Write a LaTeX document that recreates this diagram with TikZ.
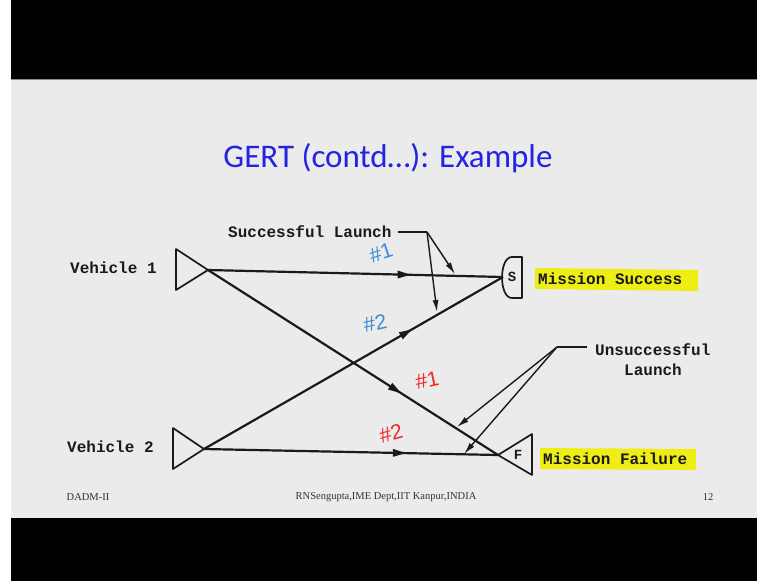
\documentclass[tikz,border=0pt]{standalone}
\usepackage{fontspec}
\setmainfont{Liberation Serif}
\newfontfamily\titlefont{Carlito}
\newfontfamily\typefont{Liberation Mono}
\newfontfamily\handfont{Liberation Sans}
\usetikzlibrary{arrows.meta,decorations.markings}
\definecolor{slidebg}{HTML}{EBEBEB}
\definecolor{titleblue}{RGB}{35,35,225}
\definecolor{penblue}{RGB}{60,140,215}
\definecolor{penred}{RGB}{240,40,40}
\definecolor{hilite}{RGB}{238,238,20}
\definecolor{ink}{HTML}{1A1A1A}
\tikzset{
  mono/.style={font=\typefont\bfseries\fontsize{16}{18}\selectfont, text=ink, inner sep=0pt},
  hand/.style={font=\handfont\fontsize{21}{22}\selectfont, inner sep=0pt},
  foot/.style={font=\fontsize{10.5}{12}\selectfont, text=black!80, inner sep=0pt},
  shapeline/.style={draw=ink, line width=1.7pt, line join=round},
  mainline/.style={draw=ink, line width=2.2pt},
  midarrow/.style={postaction={decorate}, decoration={markings,
      mark=at position #1 with {\fill[ink] (2pt,0pt) -- (-11pt,4pt) -- (-11pt,-4pt) -- cycle;}}},
  annot/.style={draw=ink, line width=1.4pt},
  annotarrow/.style={annot, -{Latex[length=12pt,width=6pt]}},
}
\begin{document}
\begin{tikzpicture}[x=1pt,y=-1pt]
% background
\fill[white] (0,0) rectangle (767,581);
\fill[black] (11,0) rectangle (757,79);
\fill[slidebg] (11,79) rectangle (757,518);
\fill[black] (11,518) rectangle (757,581);
\draw[black!45, line width=1pt] (11,79.5) -- (757,79.5);
\useasboundingbox (0,0) rectangle (767,581);

% title
\node[font=\titlefont\fontsize{33}{36}\selectfont, text=titleblue, anchor=base, inner sep=0pt]
  (title) at (388,167) {GERT (contd\ldots): Example};

% vehicles (triangles)
\coordinate (v1) at (208,270);
\draw[shapeline] (v1) -- (176,249) -- (176,290) -- cycle;
\coordinate (v2) at (204,449);
\draw[shapeline] (v2) -- (173,428) -- (173,469) -- cycle;
\node[mono, anchor=west] (v1lab) at (70,268) {Vehicle 1};
\node[mono, anchor=west] (v2lab) at (67,447) {Vehicle 2};

% success node (D shape)
\node[font=\typefont\bfseries\fontsize{14}{14}\selectfont, text=ink, inner sep=0pt] (S) at (512,277) {S};
\coordinate (sin) at (503,277);
\draw[shapeline] (522,257) -- (512,257) .. controls (498.7,257) and (498.7,298) .. (512,298) -- (522,298) -- cycle;

% failure node (triangle)
\coordinate (fin) at (498,455);
\draw[shapeline] (fin) -- (532,434) -- (532,475) -- cycle;
\node[font=\typefont\bfseries\fontsize{14}{14}\selectfont, text=ink, inner sep=0pt] (F) at (518,455) {F};

% highlights and labels
\fill[hilite] (535,268) -- (698,270) -- (698,291) -- (535,289) -- cycle;
\node[mono, anchor=west] (ms) at (538,279) {Mission Success};
\fill[hilite] (540,448) -- (696,449) -- (696,470) -- (540,469) -- cycle;
\node[mono, anchor=west] (mf) at (543,459) {Mission Failure};

% main connectors
\draw[mainline, midarrow=0.68] (v1) -- (sin);
\draw[mainline, midarrow=0.69] (v2) -- (sin);
\draw[mainline, midarrow=0.66] (v1) -- (fin);
\draw[mainline, midarrow=0.68] (v2) -- (fin);

% hand-written labels
\node[hand, text=penblue, rotate=18] (b1) at (381,253) {\#1};
\node[hand, text=penblue, rotate=12] (b2) at (375,323) {\#2};
\node[hand, text=penred, rotate=12] (r1) at (427,380) {\#1};
\node[hand, text=penred, rotate=15] (r2) at (391,433) {\#2};

% successful launch annotation
\node[mono, anchor=west] (sl) at (228,232) {Successful Launch};
\coordinate (slc) at (427,232);
\coordinate (sla) at (455,274);
\coordinate (slb) at (437,312);
\draw[annot, shorten <=6pt] (sl.east) -- (slc);
\draw[annotarrow] (slc) -- (sla);
\draw[annotarrow] (slc) -- (slb);

% unsuccessful launch annotation
\node[mono, anchor=west] (ul1) at (595,350) {Unsuccessful};
\node[mono] (ul2) at (653,370) {Launch};
\coordinate (ulc) at (557,347);
\coordinate (ula) at (457,427);
\coordinate (ulb) at (464,454);
\draw[annot] (587,347) -- (ulc);
\draw[annotarrow] (ulc) -- (ula);
\draw[annotarrow] (ulc) -- (ulb);

% footer
\node[foot] (f1) at (88,497) {DADM-II};
\node[foot] (f2) at (386,497) {RNSengupta,IME Dept,IIT Kanpur,INDIA};
\node[foot] (f3) at (708,497) {12};
\end{tikzpicture}
\end{document}
